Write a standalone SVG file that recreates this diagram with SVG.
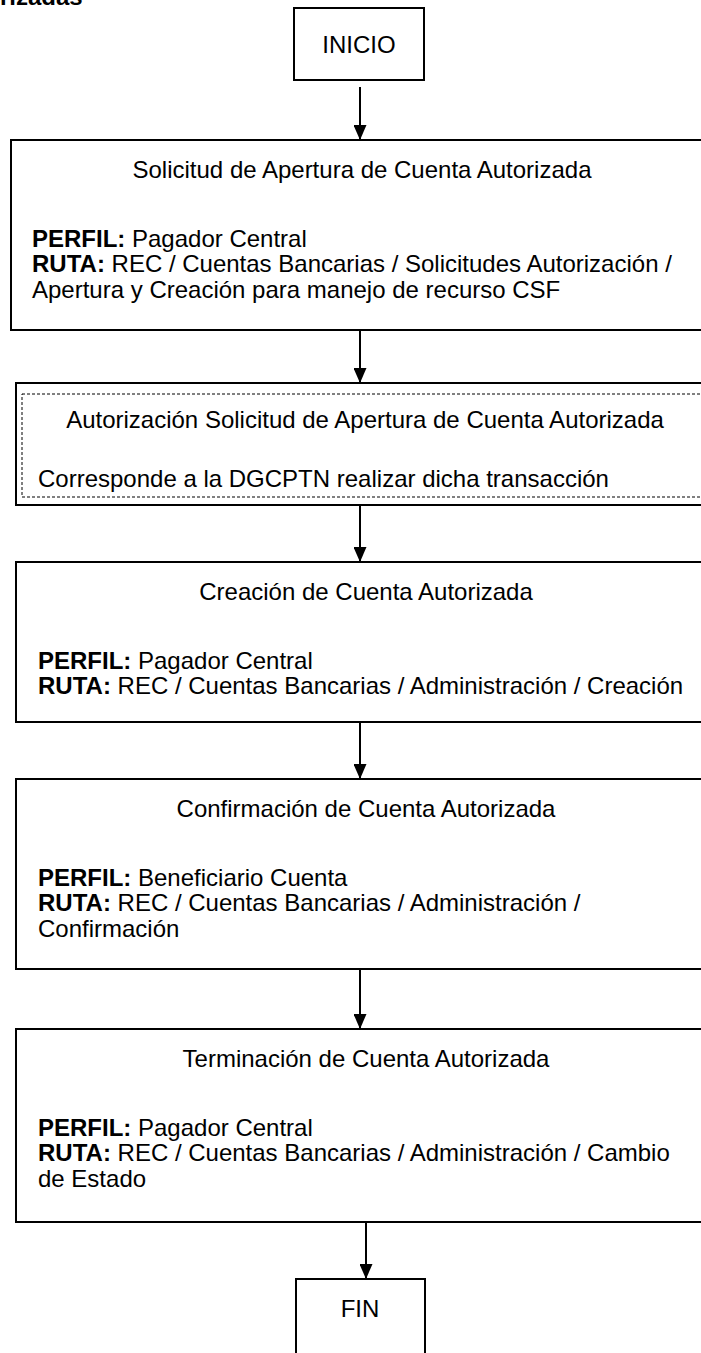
<svg xmlns="http://www.w3.org/2000/svg" width="701" height="1353" viewBox="0 0 701 1353">
<style>
text{font-family:"Liberation Sans",Arial,sans-serif;font-size:24px;fill:#000}
.b{font-weight:bold}
.c{text-anchor:middle}
.box{fill:#fff;stroke:#000;stroke-width:2}
.dash{fill:none;stroke:#000;stroke-width:1;stroke-dasharray:3 2}
.conn{stroke:#000;stroke-width:2;fill:none;marker-end:url(#ah)}
</style>
<defs>
<marker id="ah" viewBox="0 0 15 13" refX="15" refY="6.5" markerWidth="15" markerHeight="13" markerUnits="userSpaceOnUse" orient="auto">
<path d="M0,0 L15,6.5 L0,13 z" fill="#000"/>
</marker>
</defs>
<rect width="701" height="1353" fill="#fff"/>
<text class="b" x="0" y="5">rizadas</text>
<g id="inicio">
<rect class="box" x="294" y="8" width="130" height="72"/>
<text class="c" x="359" y="53">INICIO</text>
</g>
<g id="solicitud">
<rect class="box" x="11" y="140" width="710" height="190"/>
<text class="c" x="362" y="178">Solicitud de Apertura de Cuenta Autorizada</text>
<text x="32" y="247"><tspan class="b">PERFIL:</tspan> Pagador Central</text>
<text x="32" y="272"><tspan class="b">RUTA:</tspan> REC / Cuentas Bancarias / Solicitudes Autorización /</text>
<text x="32" y="298">Apertura y Creación para manejo de recurso CSF</text>
</g>
<g id="autorizacion">
<rect class="box" x="16" y="383" width="710" height="122"/>
<rect class="dash" x="22" y="394" width="710" height="103"/>
<text class="c" x="365" y="428">Autorización Solicitud de Apertura de Cuenta Autorizada</text>
<text x="38" y="487">Corresponde a la DGCPTN realizar dicha transacción</text>
</g>
<g id="creacion">
<rect class="box" x="16" y="562" width="710" height="160"/>
<text class="c" x="366" y="600">Creación de Cuenta Autorizada</text>
<text x="38" y="669"><tspan class="b">PERFIL:</tspan> Pagador Central</text>
<text x="38" y="694"><tspan class="b">RUTA:</tspan> REC / Cuentas Bancarias / Administración / Creación</text>
</g>
<g id="confirmacion">
<rect class="box" x="16" y="779" width="710" height="190"/>
<text class="c" x="366" y="817">Confirmación de Cuenta Autorizada</text>
<text x="38" y="886"><tspan class="b">PERFIL:</tspan> Beneficiario Cuenta</text>
<text x="38" y="911"><tspan class="b">RUTA:</tspan> REC / Cuentas Bancarias / Administración /</text>
<text x="38" y="937">Confirmación</text>
</g>
<g id="terminacion">
<rect class="box" x="16" y="1029" width="710" height="193"/>
<text class="c" x="366" y="1067">Terminación de Cuenta Autorizada</text>
<text x="38" y="1136"><tspan class="b">PERFIL:</tspan> Pagador Central</text>
<text x="38" y="1161"><tspan class="b">RUTA:</tspan> REC / Cuentas Bancarias / Administración / Cambio</text>
<text x="38" y="1187">de Estado</text>
</g>
<g id="fin">
<rect class="box" x="296" y="1279" width="129" height="86"/>
<text class="c" x="360" y="1317">FIN</text>
</g>
<g id="connectors">
<line class="conn" x1="360" y1="87" x2="360" y2="140"/>
<line class="conn" x1="360" y1="330" x2="360" y2="383"/>
<line class="conn" x1="360" y1="505" x2="360" y2="562"/>
<line class="conn" x1="360" y1="722" x2="360" y2="779"/>
<line class="conn" x1="360" y1="969" x2="360" y2="1029"/>
<line class="conn" x1="366" y1="1222" x2="366" y2="1279"/>
</g>
</svg>
